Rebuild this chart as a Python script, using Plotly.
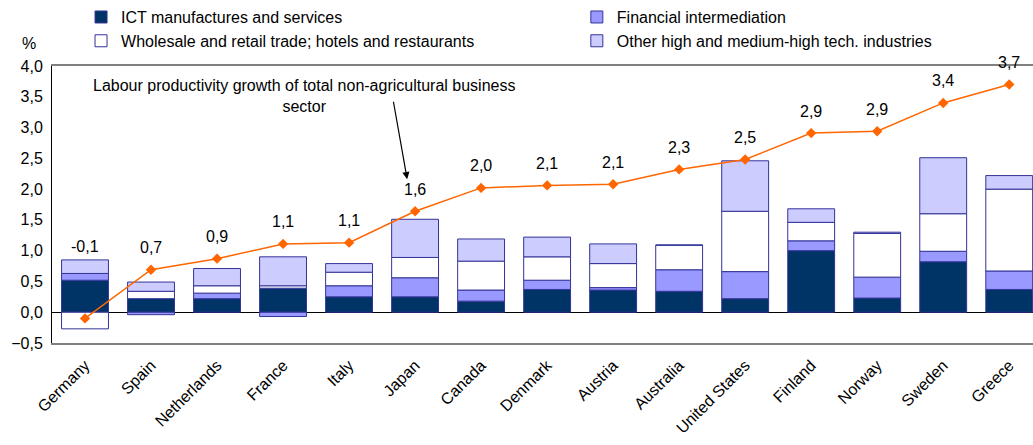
import plotly.graph_objects as go

# ---------------- dados ----------------
countries = ['Germany', 'Spain', 'Netherlands', 'France', 'Italy', 'Japan', 'Canada',
             'Denmark', 'Austria', 'Australia', 'United States', 'Finland', 'Norway',
             'Sweden', 'Greece']

ict = [0.52, 0.22, 0.22, 0.39, 0.25, 0.25, 0.18, 0.37, 0.36, 0.34, 0.22, 1.00, 0.23, 0.82, 0.37]
financial = [0.11, -0.04, 0.09, -0.07, 0.18, 0.31, 0.18, 0.15, 0.04, 0.35, 0.44, 0.16, 0.34, 0.17, 0.30]
wholesale = [-0.27, 0.12, 0.12, 0.04, 0.22, 0.33, 0.47, 0.38, 0.39, 0.40, 0.98, 0.30, 0.71, 0.61, 1.33]
other_tech = [0.22, 0.15, 0.28, 0.47, 0.14, 0.62, 0.36, 0.32, 0.32, 0.00, 0.82, 0.22, 0.02, 0.91, 0.22]

total_growth = [-0.10, 0.69, 0.87, 1.11, 1.13, 1.64, 2.02, 2.06, 2.08, 2.32, 2.48, 2.91, 2.94, 3.40, 3.70]

# (nome, valores, cor, legenda)
series = [
    ('ICT manufactures and services', ict, '#003366', 'legend'),
    ('Financial intermediation', financial, '#9999FF', 'legend2'),
    ('Wholesale and retail trade; hotels and restaurants', wholesale, '#FFFFFF', 'legend'),
    ('Other high and medium-high tech. industries', other_tech, '#CCCCFF', 'legend2'),
]

FONT = 'Liberation Sans, Arial, sans-serif'

fig = go.Figure()

for nome, vals, cor, leg in series:
    fig.add_trace(go.Bar(
        x=countries,
        y=vals,
        name=nome,
        legend=leg,
        width=0.71,
        marker=dict(color=cor, line=dict(color='#333399', width=1)),
    ))

fig.add_trace(go.Scatter(
    x=countries,
    y=total_growth,
    mode='lines+markers',
    line=dict(color='#FF6600', width=1.5),
    marker=dict(symbol='diamond', size=8, color='#FF6600'),
    showlegend=False,
    name='Labour productivity growth',
))

# rótulos da linha
for i, v in enumerate(total_growth):
    topo = sum(max(s[1][i], 0) for s in series)
    if v < topo - 0.2:
        y_lab, shift = topo, 13
    else:
        y_lab, shift = v, 22
    fig.add_annotation(
        x=countries[i], y=y_lab, yshift=shift,
        text=f'{v:.1f}'.replace('.', ','),
        showarrow=False, yanchor='middle',
        font=dict(size=16, color='#000000', family=FONT),
    )

# texto explicativo + seta
fig.add_annotation(
    x=3.32, y=3.52, xref='x', yref='y',
    text='Labour productivity growth of total non-agricultural business<br>sector',
    showarrow=False, align='center',
    font=dict(size=16, color='#000000', family=FONT),
)
fig.add_annotation(
    x=4.88, y=2.16, xref='x', yref='y',
    ax=-14, ay=-79, text='',
    showarrow=True, arrowhead=2, arrowsize=1.2, arrowwidth=1.2, arrowcolor='#000000',
)

# "%"
fig.add_annotation(
    x=-0.033, y=1.12, xref='paper', yref='paper',
    text='%', showarrow=False,
    font=dict(size=16, color='#000000', family=FONT),
)

leg_base = dict(
    orientation='v',
    y=1.238, xanchor='left', yanchor='top',
    traceorder='normal',
    itemwidth=30,
    font=dict(size=16, family=FONT),
    bgcolor='rgba(0,0,0,0)',
)

fig.update_layout(
    width=1033, height=445,
    margin=dict(l=52, r=0, t=66, b=102),
    barmode='relative',
    separators=', ',
    plot_bgcolor='#FFFFFF',
    paper_bgcolor='#FFFFFF',
    font=dict(family=FONT, size=16, color='#000000'),
    legend=dict(leg_base, x=0.0296),
    legend2=dict(leg_base, x=0.535),
)

fig.update_xaxes(
    range=[-0.5, 14.36],
    tickangle=-45,
    tickfont=dict(size=16, family=FONT),
    ticklabelstandoff=5,
    showline=True, linecolor='#808080', linewidth=1.5, mirror=True,
    showgrid=False, ticks='',
)
fig.update_yaxes(
    range=[-0.5, 4.0],
    dtick=0.5, tickformat='.1f',
    tickfont=dict(size=16, family=FONT),
    ticklabelstandoff=5,
    showline=True, linecolor='#000000', linewidth=1,
    showgrid=False,
    zeroline=True, zerolinecolor='#000000', zerolinewidth=1,
    ticks='',
)

fig.write_html('out.html', config={'displayModeBar': False},
               post_script="document.body.style.margin='0';")
